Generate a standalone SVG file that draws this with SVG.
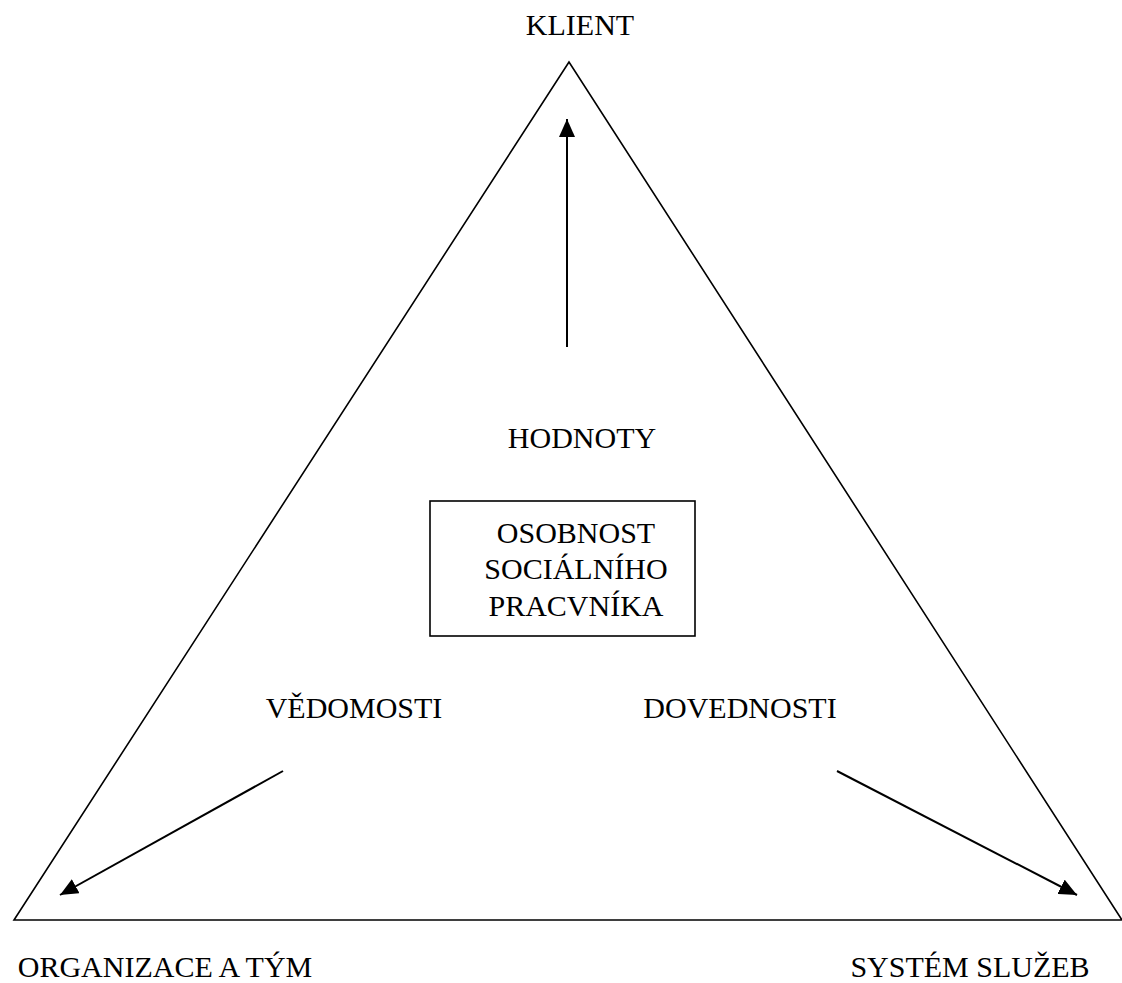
<svg xmlns="http://www.w3.org/2000/svg" width="1122" height="983" viewBox="0 0 1122 983">
<style>
text{font-family:'Liberation Serif',Tinos,'Times New Roman',Times,'DejaVu Serif','Noto Serif',serif;font-size:30px;fill:#000;text-anchor:middle}
.edge{stroke:#000;stroke-width:2;fill:none}
.frame{stroke:#000;stroke-width:1.6;fill:none}
</style>
<defs>
<marker id="ah" viewBox="0 0 18 16" refX="18" refY="8" markerWidth="18" markerHeight="16" markerUnits="userSpaceOnUse" orient="auto">
<path d="M0,0 L18,8 L0,16 z" fill="#000"/>
</marker>
</defs>
<rect width="1122" height="983" fill="#fff"/>
<g id="triangle"><path class="frame" d="M569,62 L14,920 L1122,920 Z"/></g>
<g id="klient"><text x="580" y="35">KLIENT</text></g>
<g id="organizace"><text x="165" y="977">ORGANIZACE A TÝM</text></g>
<g id="system"><text x="970" y="977">SYSTÉM SLUŽEB</text></g>
<g id="hodnoty"><text x="582" y="448">HODNOTY</text></g>
<g id="vedomosti"><text x="354" y="718">VĚDOMOSTI</text></g>
<g id="dovednosti"><text x="740" y="718">DOVEDNOSTI</text></g>
<g id="osobnost">
<rect x="430" y="501" width="265" height="135" class="frame"/>
<text x="576" y="543">OSOBNOST</text>
<text x="576" y="579">SOCIÁLNÍHO</text>
<text x="576" y="616">PRACVNÍKA</text>
</g>
<g id="connectors">
<line class="edge" x1="567" y1="347" x2="567" y2="119" marker-end="url(#ah)"/>
<line class="edge" x1="283" y1="771" x2="60" y2="895" marker-end="url(#ah)"/>
<line class="edge" x1="837" y1="771" x2="1077" y2="895" marker-end="url(#ah)"/>
</g>
</svg>
